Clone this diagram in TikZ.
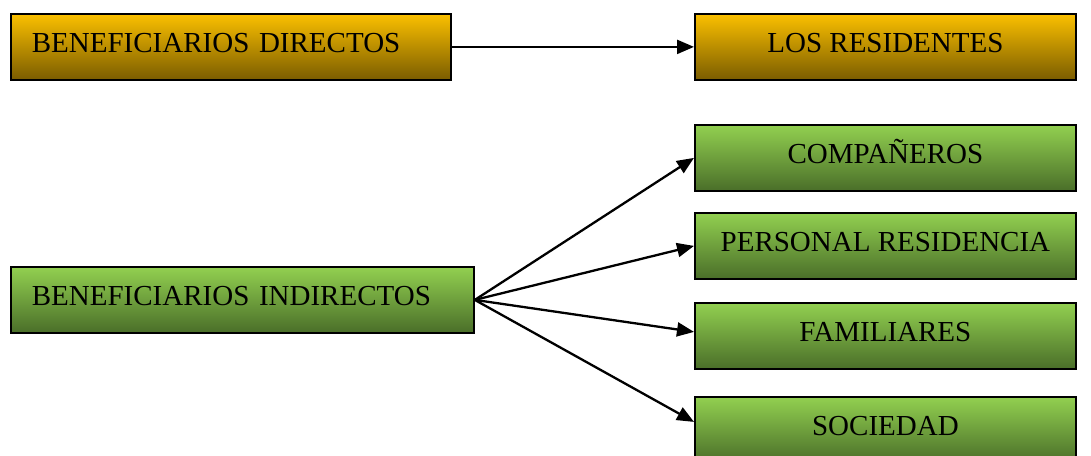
\documentclass[tikz,border=0pt]{standalone}
\usepackage{fontspec}
\setmainfont{Liberation Serif}
\usetikzlibrary{arrows.meta}

\definecolor{orotop}{HTML}{FBC000}
\definecolor{oromid}{HTML}{D9A300}
\definecolor{orobot}{HTML}{7A5C00}
\definecolor{verdetop}{HTML}{92D050}
\definecolor{verdemid}{HTML}{7AB043}
\definecolor{verdebot}{HTML}{4A6E29}

\begin{document}
\begin{tikzpicture}
  [x=1pt, y=-1pt,
   every node/.style={draw=black, line width=1.8pt, rectangle, minimum height=66pt,
                      text height=20pt, text depth=8pt,
                      font=\fontsize{29}{34}\selectfont, anchor=north west},
   oro/.style={top color=orotop, middle color=oromid, bottom color=orobot},
   verde/.style={top color=verdetop, middle color=verdemid, bottom color=verdebot},
   izq/.style={inner xsep=21pt, align=left},
   der/.style={minimum width=381pt, inner xsep=0pt},
   flecha/.style={line width=2.3pt, -{Triangle[length=17pt,width=14pt]}}]
  \useasboundingbox (0,0) rectangle (1091,455);
  \clip (0,0) rectangle (1091,455);
  % directos
  \node [oro, izq, text width=398pt] (bd) at (10,13) {BENEFICIARIOS DIRECTOS};
  \node [oro, der] (lr) at (694,13) {LOS RESIDENTES};
  % indirectos
  \node [verde, izq, text width=421pt] (bi) at (10,266) {BENEFICIARIOS INDIRECTOS};
  \node [verde, der] (co) at (694,124) {COMPAÑEROS};
  \node [verde, der] (pr) at (694,212) {PERSONAL RESIDENCIA};
  \node [verde, der] (fa) at (694,302) {FAMILIARES};
  \node [verde, der] (so) at (694,396) {SOCIEDAD};

  \draw [flecha] (bd.east) -- (lr.west);
  \draw [flecha] (bi.east) -- (co.west);
  \draw [flecha] (bi.east) -- (pr.west);
  \draw [flecha] (bi.east) -- ([yshift=4pt]fa.west);
  \draw [flecha] (bi.east) -- ([yshift=8pt]so.west);
\end{tikzpicture}
\end{document}
